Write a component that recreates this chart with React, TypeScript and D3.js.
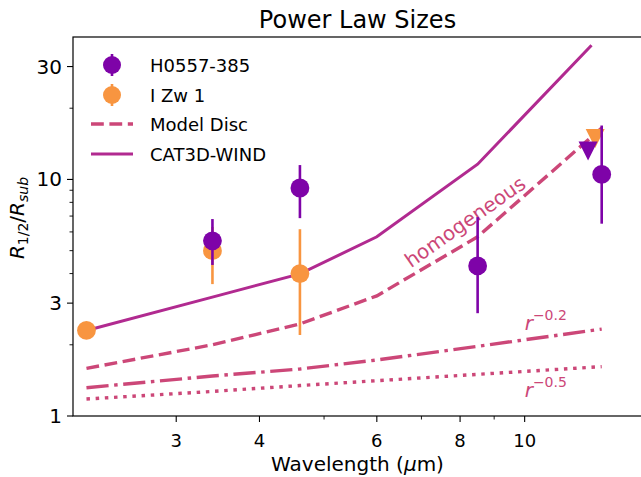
import React from 'react';
import * as d3 from 'd3';

// ---------- data ----------
const hWave = [3.4, 4.6, 8.5, 13.05];
const hSize = [5.5, 9.2, 4.31, 10.5];
const hErrLo = [1.15, 2.34, 1.59, 4.0];
const hErrHi = [1.3, 2.3, 2.62, 6.4];
const hLimWave = [12.45];
const hLimSize = [13.2];

const iWave = [2.2, 3.4, 4.6];
const iSize = [2.3, 5.0, 4.0];
const iErrLo = [0, 1.39, 1.8];
const iErrHi = [0, 1.3, 2.16];
const iLimWave = [12.76];
const iLimSize = [14.9];

const catWave = [2.2, 3.5, 4.6, 6.0, 8.5, 12.6];
const catSize = [2.3, 3.25, 3.99, 5.72, 11.6, 36.9];

const discWave = [2.2, 3.4, 4.6, 6.0, 8.5, 13.05];
const discSize = [1.59, 2.0, 2.45, 3.22, 5.72, 16.5];
const pow02Size = [1.317, 1.476, 1.58, 1.725, 1.97, 2.33];
const pow05Size = [1.18, 1.27, 1.345, 1.41, 1.5, 1.617];

const xMajor = [3, 4, 6, 8, 10];
const xMinor = [5, 7, 9];
const yMajor = [1, 3, 10, 30];
const yMinor = [2, 4, 5, 6, 7, 8, 9, 20];

const PURPLE = '#7e03a8';
const ORANGE = '#f89540';
const DISC = '#cc4778';
const CAT = '#b12a90';
const FONT = 'DejaVu Sans, sans-serif';

export default function App() {
  const L = 73, R = 642, T = 37, B = 416;
  const x = d3.scaleLog().domain([2.1, 15]).range([L, R]);
  const y = d3.scaleLog().domain([1, 40]).range([B, T]);

  const mk = (ws: number[], vs: number[]) =>
    d3.line<number>().x((_, i) => x(ws[i])).y((_, i) => y(vs[i]))(vs.map((_, i) => i)) || '';

  const lw = 3.4;
  const triPath = (cx: number, cy: number, s: number) =>
    `M${cx - s},${cy - s} L${cx + s},${cy - s} L${cx},${cy + s} Z`;

  const errGroup = (ws: number[], vs: number[], lo: number[], hi: number[], color: string) => (
    <g>
      {ws.map((w, i) =>
        lo[i] > 0 || hi[i] > 0 ? (
          <line key={'e' + i} x1={x(w)} x2={x(w)} y1={y(vs[i] - lo[i])} y2={y(vs[i] + hi[i])}
            stroke={color} strokeWidth={2.6} />
        ) : null
      )}
      {ws.map((w, i) => (
        <circle key={'c' + i} cx={x(w)} cy={y(vs[i])} r={9.4} fill={color} />
      ))}
    </g>
  );

  return (
    <svg width={641} height={477} style={{ position: 'absolute', left: 0, top: 0, background: '#fff' }}
      fontFamily={FONT}>
      <rect x={0} y={0} width={641} height={477} fill="#fff" />
      <defs>
        <clipPath id="plotclip">
          <rect x={L} y={T} width={R - L} height={B - T} />
        </clipPath>
      </defs>

      {/* title */}
      <text x={(L + R) / 2} y={28} textAnchor="middle" fontSize={24} fill="#000">Power Law Sizes</text>

      <g clipPath="url(#plotclip)">
        <path d={mk(catWave, catSize)} fill="none" stroke={CAT} strokeWidth={3.0} />
        <path d={mk(discWave, discSize)} fill="none" stroke={DISC} strokeWidth={lw} strokeDasharray="12.8,5.6" />
        <path d={mk(discWave, pow02Size)} fill="none" stroke={DISC} strokeWidth={lw} strokeDasharray="22.2,5.6,3.5,5.6" />
        <path d={mk(discWave, pow05Size)} fill="none" stroke={DISC} strokeWidth={lw} strokeDasharray="3.5,5.7" />

        <text transform={`translate(${x(8.14)},${y(6.62)}) rotate(-35)`} textAnchor="middle"
          dominantBaseline="central" fontSize={20} fill={DISC}>homogeneous</text>
        <text x={x(10)} y={y(2.31)} fontSize={20} fill={DISC}>
          <tspan fontStyle="italic">r</tspan>
          <tspan fontSize={14} dy={-10}>−0.2</tspan>
        </text>
        <text x={x(10)} y={y(1.207)} fontSize={20} fill={DISC}>
          <tspan fontStyle="italic">r</tspan>
          <tspan fontSize={14} dy={-10}>−0.5</tspan>
        </text>

        {errGroup(iWave, iSize, iErrLo, iErrHi, ORANGE)}
        {iLimWave.map((w, i) => (
          <path key={'il' + i} d={triPath(x(w), y(iLimSize[i]), 9.5)} fill={ORANGE} />
        ))}
        {errGroup(hWave, hSize, hErrLo, hErrHi, PURPLE)}
        {hLimWave.map((w, i) => (
          <path key={'hl' + i} d={triPath(x(w), y(hLimSize[i]), 9.5)} fill={PURPLE} />
        ))}
      </g>

      {/* frame */}
      <rect x={L} y={T} width={R - L} height={B - T} fill="none" stroke="#000" strokeWidth={1.2} />

      {/* x ticks */}
      {xMajor.map((t) => (
        <g key={'xt' + t}>
          <line x1={x(t)} x2={x(t)} y1={B} y2={B + 6} stroke="#000" strokeWidth={1.1} />
          <text x={x(t)} y={B + 31} textAnchor="middle" fontSize={18} fill="#000">{t}</text>
        </g>
      ))}
      {xMinor.map((t) => (
        <line key={'xm' + t} x1={x(t)} x2={x(t)} y1={B} y2={B + 3.5} stroke="#000" strokeWidth={0.9} />
      ))}
      {/* y ticks */}
      {yMajor.map((t) => (
        <g key={'yt' + t}>
          <line x1={L - 6} x2={L} y1={y(t)} y2={y(t)} stroke="#000" strokeWidth={1.1} />
          <text x={L - 11} y={y(t)} textAnchor="end" dominantBaseline="central" fontSize={20} fill="#000">{t}</text>
        </g>
      ))}
      {yMinor.map((t) => (
        <line key={'ym' + t} x1={L - 3.5} x2={L} y1={y(t)} y2={y(t)} stroke="#000" strokeWidth={0.9} />
      ))}

      {/* axis labels */}
      <text x={(L + R) / 2} y={471} textAnchor="middle" fontSize={20} fill="#000">
        Wavelength (<tspan fontStyle="italic">μ</tspan>m)
      </text>
      <text transform="translate(24,218) rotate(-90)" textAnchor="middle" fontSize={20} fill="#000">
        <tspan fontStyle="italic">R</tspan>
        <tspan fontSize={14} dy={4}>1/2</tspan>
        <tspan dy={-4}>/</tspan>
        <tspan fontStyle="italic">R</tspan>
        <tspan fontSize={14} fontStyle="italic" dy={4}>sub</tspan>
      </text>

      {/* legend */}
      <g>
        <line x1={112} x2={112} y1={54} y2={76} stroke={PURPLE} strokeWidth={2.6} />
        <circle cx={112} cy={65} r={9} fill={PURPLE} />
        <text x={150} y={65} dominantBaseline="central" fontSize={18} fill="#000">H0557-385</text>

        <line x1={112} x2={112} y1={84} y2={106} stroke={ORANGE} strokeWidth={2.6} />
        <circle cx={112} cy={95} r={9} fill={ORANGE} />
        <text x={150} y={95} dominantBaseline="central" fontSize={18} fill="#000">I Zw 1</text>

        <line x1={91} x2={133} y1={124} y2={124} stroke={DISC} strokeWidth={lw} strokeDasharray="12.8,5.6" />
        <text x={150} y={124} dominantBaseline="central" fontSize={18} fill="#000">Model Disc</text>

        <line x1={91} x2={133} y1={154} y2={154} stroke={CAT} strokeWidth={3} />
        <text x={150} y={154} dominantBaseline="central" fontSize={18} fill="#000">CAT3D-WIND</text>
      </g>
    </svg>
  );
}
